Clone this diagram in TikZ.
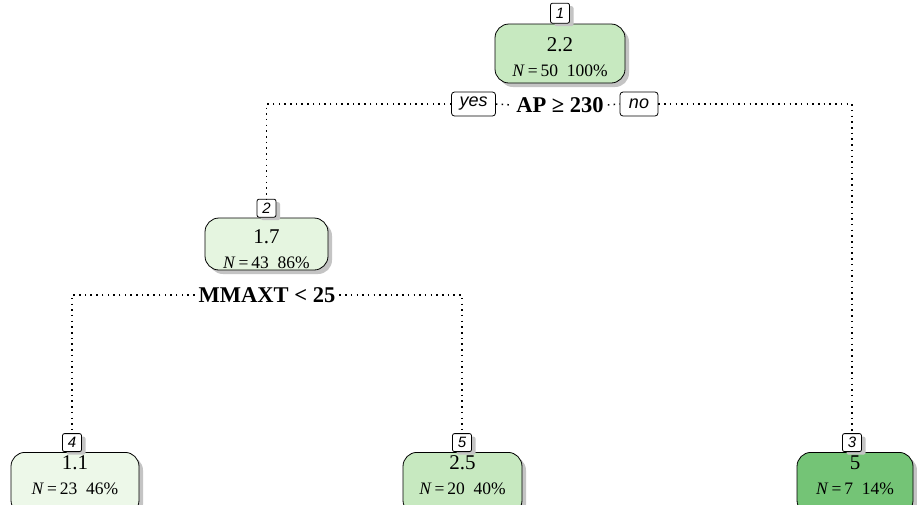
\documentclass[tikz,border=0pt]{standalone}
\usepackage{fontspec}
\setmainfont{Liberation Serif}
\newfontfamily\lblfont{Liberation Sans}
\usetikzlibrary{shadows}

\definecolor{gA}{HTML}{C7E9C0}
\definecolor{gB}{HTML}{E5F5E0}
\definecolor{gC}{HTML}{EDF8E9}
\definecolor{gD}{HTML}{74C476}
\definecolor{shade}{HTML}{C4C4C4}

\tikzset{
  treebox/.style={draw, line width=0.8pt, rounded corners=14pt, inner sep=0pt,
    align=center, minimum height=57pt,
    drop shadow={shadow xshift=4pt, shadow yshift=-4pt, fill=shade, opacity=1}},
  leafbox/.style={treebox, minimum height=62pt, anchor=north},
  numtag/.style={draw, line width=0.8pt, rounded corners=2pt, inner sep=0pt,
    minimum width=19pt, minimum height=18pt, anchor=south, fill=white,
    font=\lblfont\itshape\fontsize{15}{15}\selectfont,
    drop shadow={shadow xshift=4pt, shadow yshift=-3pt, fill=shade, opacity=1}},
  yn/.style={draw, line width=0.8pt, rounded corners=3pt, inner sep=0pt,
    minimum height=24pt, fill=white,
    font=\lblfont\itshape\fontsize{18}{18}\selectfont},
  split/.style={font=\bfseries\fontsize{22.5}{22.5}\selectfont, inner sep=4pt},
  dotline/.style={line width=1.5pt, dash pattern=on 1.5pt off 4.2pt},
}
\newcommand{\valline}[1]{{\fontsize{21}{21}\selectfont #1}}
\newcommand{\nline}[2]{{\fontsize{17.5}{17.5}\selectfont \textit{N}\,=\,#1\enspace#2\%}}
% extra depth under the last line of a leaf, so its text sits high in the box
\newcommand{\leafpad}{\rule[-16pt]{0pt}{16pt}}
% extra height above the first line of an inner box
\newcommand{\headpad}[1]{\rule{0pt}{#1}}

\begin{document}
\begin{tikzpicture}[x=1pt,y=-1pt]
\useasboundingbox[fill=white] (0,0) rectangle (917,504);

% boxes of the tree
\node[treebox, fill=gA, minimum width=130pt, minimum height=59pt] (n1) at (560,53.5)
  {\headpad{22pt}\valline{2.2}\\[13pt]\nline{50}{100}};
\node[treebox, fill=gB, minimum width=123pt, minimum height=52pt] (n2) at (266.5,244)
  {\headpad{24pt}\valline{1.7}\\[13pt]\nline{43}{86}};
\node[leafbox, fill=gC, minimum width=128pt] (n4) at (75,452)
  {\valline{1.1}\\[13pt]\nline{23}{46}\leafpad};
\node[leafbox, fill=gA, minimum width=119pt] (n5) at (462.5,452)
  {\valline{2.5}\\[13pt]\nline{20}{40}\leafpad};
\node[leafbox, fill=gD, minimum width=116pt] (n3) at (855,452)
  {\valline{5}\\[13pt]\nline{7}{14}\leafpad};

% node numbers
\node[numtag, minimum height=20pt] (t1) at (n1.north) {1};
\node[numtag] (t2) at (n2.north) {2};
\node[numtag] (t4) at (72,452) {4};
\node[numtag] (t5) at (462,452) {5};
\node[numtag] (t3) at (852,452) {3};

% split rules
\node[split] (s1) at (560,105) {AP ≥ 230};
\node[split] (s2) at (267,295) {MMAXT < 25};
\node[yn, minimum width=44pt] (yes) at (473.5,104) {yes};
\node[yn, minimum width=38pt] (no) at (639,104) {no};

% branches
\draw[dotline] (yes.west) -| (t2.north);
\draw[dotline] (yes.east) -- (s1.west);
\draw[dotline] (s1.east) -- (no.west);
\draw[dotline] (no.east) -| (t3.north);
\draw[dotline] (s2.west) -| (t4.north);
\draw[dotline] (s2.east) -| (t5.north);
\end{tikzpicture}
\end{document}
